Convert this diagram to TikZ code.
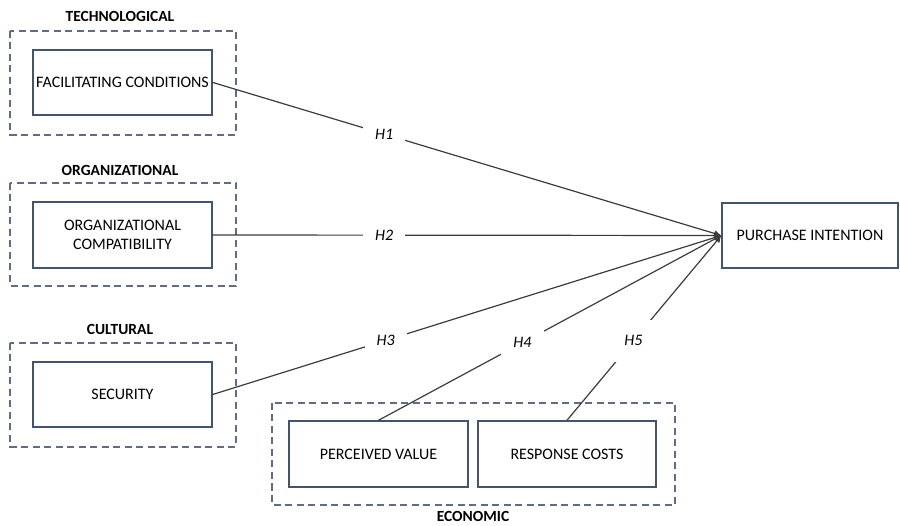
\documentclass[tikz,border=0pt]{standalone}
\usepackage{fontspec}
\setmainfont{Carlito}
\usetikzlibrary{arrows.meta}
\definecolor{boxc}{RGB}{68,84,106}
\definecolor{dashc}{RGB}{95,108,132}
\definecolor{linec}{RGB}{60,60,60}
\begin{document}
\begin{tikzpicture}[x=1pt,y=-1pt,
  cbox/.style={draw=boxc,line width=1.4pt,fill=white,align=center,font=\fontsize{16}{18.5}\selectfont},
  grp/.style={draw=dashc,line width=1.8pt,dash pattern=on 7pt off 4.5pt},
  hdr/.style={font=\bfseries\fontsize{15.5}{17}\selectfont},
  hyp/.style={fill=white,inner xsep=12pt,inner ysep=6pt,font=\itshape\fontsize{16}{18}\selectfont},
  conn/.style={draw=linec,line width=1.2pt,-{Latex[length=7pt,width=7pt]}}]
\useasboundingbox (0,0) rectangle (900,526);
% groups
\draw[grp] (10,31) rectangle (236,135);
\draw[grp] (10,183) rectangle (236,286);
\draw[grp] (10,343) rectangle (236,447);
\draw[grp] (272,403) rectangle (675,505);
\node[hdr] (th) at (120,16) {TECHNOLOGICAL};
\node[hdr] (oh) at (120,170) {ORGANIZATIONAL};
\node[hdr] (ch) at (120,329) {CULTURAL};
\node[hdr] (eh) at (473,516) {ECONOMIC};
% boxes
\node[cbox,minimum width=179pt,minimum height=65pt] (fc) at (122.5,82.5) {FACILITATING CONDITIONS};
\node[cbox,minimum width=179pt,minimum height=66pt] (oc) at (122.5,235) {ORGANIZATIONAL\\COMPATIBILITY};
\node[cbox,minimum width=179pt,minimum height=65pt] (sec) at (122.5,394.5) {SECURITY};
\node[cbox,minimum width=179pt,minimum height=66pt] (pv) at (378.5,454) {PERCEIVED VALUE};
\node[cbox,minimum width=178pt,minimum height=66pt] (rc) at (567,454) {RESPONSE COSTS};
\node[cbox,minimum width=176pt,minimum height=65pt] (pi) at (810,235.5) {PURCHASE INTENTION};
% connectors
\draw[conn] (fc.east) -- node[hyp,pos=0.337] (h1) {H1} (pi.west);
\draw[conn] (oc.east) -- node[hyp,pos=0.337] (h2) {H2} (pi.west);
\draw[conn] (sec.east) -- node[hyp,pos=0.34] (h3) {H3} (pi.west);
\draw[conn] (pv.north) -- node[hyp,pos=0.42,inner ysep=9pt] (h4) {H4} (pi.west);
\draw[conn] (rc.north) -- node[hyp,pos=0.43,inner ysep=16pt] (h5) {H5} (pi.west);
\end{tikzpicture}
\end{document}
